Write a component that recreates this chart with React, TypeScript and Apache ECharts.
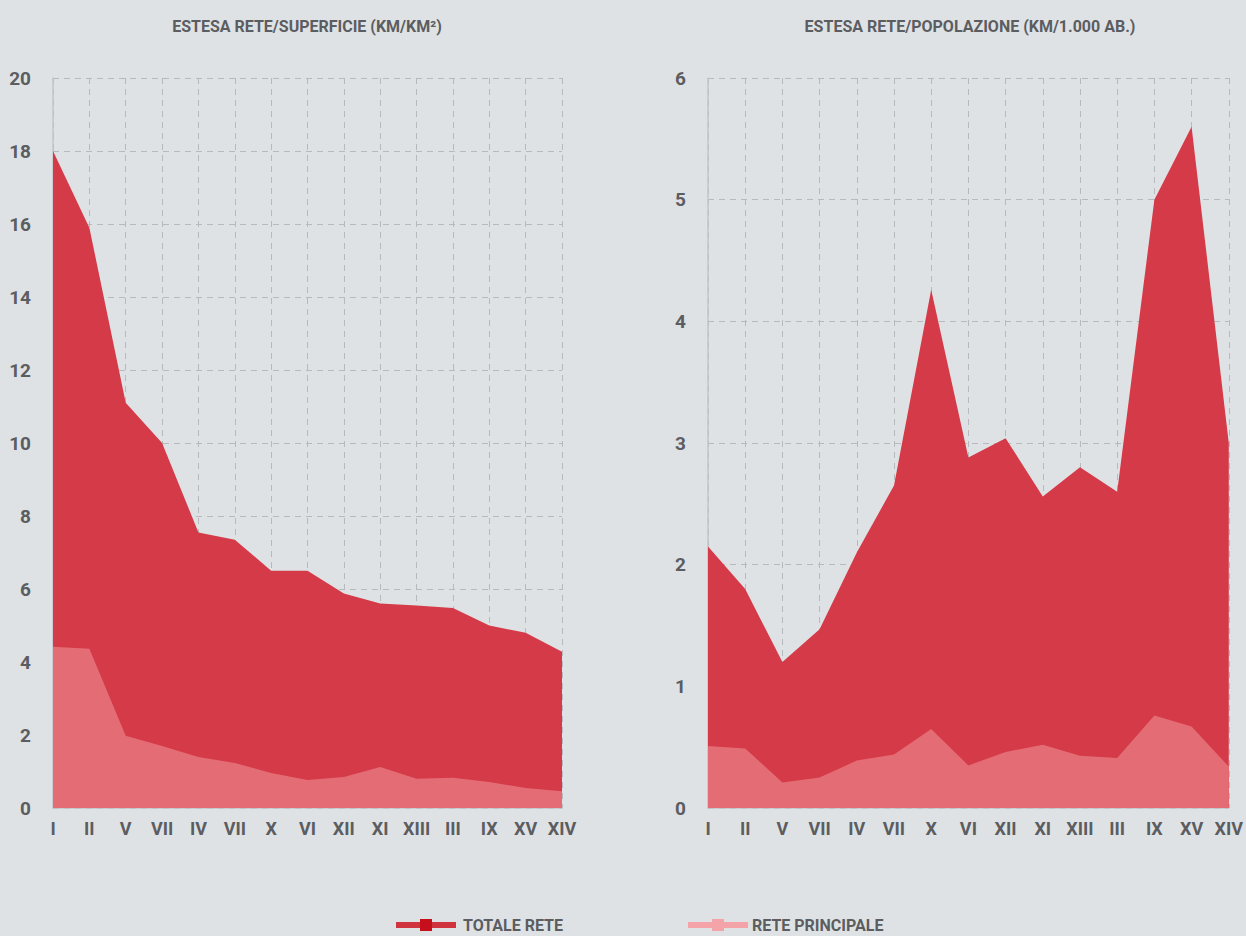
import React, { useEffect, useRef } from "react";
import * as echarts from "echarts";

const categories = ["I", "II", "V", "VII", "IV", "VII", "X", "VI", "XII", "XI", "XIII", "III", "IX", "XV", "XIV"];
const totaleSuperficie = [18.0, 15.9, 11.1, 10.0, 7.55, 7.35, 6.5, 6.5, 5.88, 5.6, 5.55, 5.48, 5.0, 4.8, 4.28];
const principaleSuperficie = [4.42, 4.36, 1.98, 1.7, 1.4, 1.23, 0.96, 0.77, 0.85, 1.12, 0.8, 0.83, 0.71, 0.55, 0.46];
const totalePopolazione = [2.15, 1.8, 1.2, 1.47, 2.1, 2.65, 4.26, 2.88, 3.04, 2.56, 2.8, 2.6, 5.0, 5.6, 3.0];
const principalePopolazione = [0.51, 0.49, 0.21, 0.25, 0.39, 0.44, 0.65, 0.35, 0.46, 0.52, 0.43, 0.41, 0.76, 0.67, 0.34];
const leftTitle = "ESTESA RETE/SUPERFICIE (KM/KM²)";
const rightTitle = "ESTESA RETE/POPOLAZIONE (KM/1.000 AB.)";
const legendNames = ["TOTALE RETE", "RETE PRINCIPALE"];

const FONT = "Roboto, 'Liberation Sans', sans-serif";
const TEXT = "#5b5d60";
const TOT = "#d43a47";
const PRI = "#e46c75";

export default function App() {
  const ref = useRef<HTMLDivElement>(null);
  useEffect(() => {
    document.body.style.margin = "0";
    const chart = echarts.init(ref.current!, null, { renderer: "svg" });
    const xAxisBase = (gridIndex: number) => ({
      type: "category",
      gridIndex,
      data: categories,
      boundaryGap: false,
      axisLine: { show: true, lineStyle: { color: "#c3c5c8", width: 1.5 } },
      axisTick: { show: false },
      axisLabel: { interval: 0, color: TEXT, fontFamily: FONT, fontWeight: "bold", fontSize: 18, margin: 11 },
      splitLine: { show: true, interval: 0, lineStyle: { color: "#b7b9bc", type: [6, 5], width: 1 } },
    });
    const yAxisBase = (gridIndex: number, max: number, interval: number) => ({
      type: "value",
      gridIndex,
      min: 0,
      max,
      interval,
      axisLine: { show: true, lineStyle: { color: "#c3c5c8", width: 1.5 } },
      axisTick: { show: false },
      axisLabel: { color: TEXT, fontFamily: FONT, fontWeight: "bold", fontSize: 19, margin: 22 },
      splitLine: { show: true, lineStyle: { color: "#b7b9bc", type: [6, 5], width: 1 } },
    });
    const area = (name: string, data: number[], idx: number, color: string, z: number) => ({
      name,
      type: "line",
      xAxisIndex: idx,
      yAxisIndex: idx,
      data,
      showSymbol: false,
      symbol: "none",
      lineStyle: { width: 0, color },
      itemStyle: { color },
      areaStyle: { color, opacity: 1 },
      z,
    });
    chart.setOption({
      animation: false,
      backgroundColor: "#dfe2e5",
      title: [
        { text: leftTitle, left: 302, top: 13, textAlign: "center", textStyle: { color: TEXT, fontFamily: FONT, fontWeight: "bold", fontSize: 16 } },
        { text: rightTitle, left: 965, top: 13, textAlign: "center", textStyle: { color: TEXT, fontFamily: FONT, fontWeight: "bold", fontSize: 16 } },
      ],
      grid: [
        { left: 53, width: 509, top: 78, height: 730 },
        { left: 708, width: 521, top: 78, height: 730 },
      ],
      xAxis: [xAxisBase(0), xAxisBase(1)],
      yAxis: [yAxisBase(0, 20, 2), yAxisBase(1, 6, 1)],
      series: [
        area(legendNames[0], totaleSuperficie, 0, TOT, 2),
        area(legendNames[1], principaleSuperficie, 0, PRI, 3),
        area(legendNames[0], totalePopolazione, 1, TOT, 2),
        area(legendNames[1], principalePopolazione, 1, PRI, 3),
      ],
      graphic: [
        { type: "rect", shape: { x: 396, y: 922, width: 60, height: 6 }, style: { fill: "#d0353f" } },
        { type: "rect", shape: { x: 420, y: 919, width: 12, height: 12 }, style: { fill: "#c5101b" } },
        { type: "text", x: 463, y: 925, style: { text: legendNames[0], fill: TEXT, font: `bold 16px ${FONT}`, textVerticalAlign: "middle" } },
        { type: "rect", shape: { x: 688, y: 922, width: 60, height: 6 }, style: { fill: "#f4a3a8" } },
        { type: "rect", shape: { x: 712, y: 919, width: 12, height: 12 }, style: { fill: "#f4a3a8" } },
        { type: "text", x: 752, y: 925, style: { text: legendNames[1], fill: TEXT, font: `bold 16px ${FONT}`, textVerticalAlign: "middle" } },
      ],
    });
    return () => chart.dispose();
  }, []);
  return <div ref={ref} style={{ width: 1246, height: 936 }} />;
}
